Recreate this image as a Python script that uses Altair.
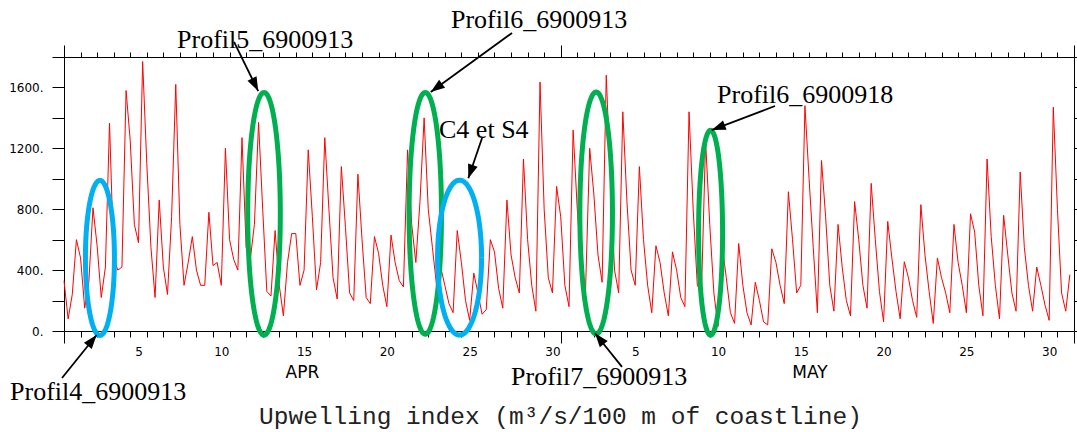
import math
import altair as alt
import numpy as np
import pandas as pd

# ---------------- data: upwelling index, 6-hourly (00h, 06h, 12h, 18h) ----------------
upwelling_apr = [
    330, 80, 240, 600,      # Apr 1
    480, 150, 320, 810,     # 2
    560, 220, 420, 1365,    # 3
    480, 400, 420, 1580,    # 4
    1250, 700, 580, 1770,   # 5
    1100, 550, 220, 860,    # 6
    420, 240, 750, 1620,    # 7
    700, 300, 450, 620,     # 8
    400, 300, 300, 780,     # 9
    430, 450, 300, 1200,    # 10
    600, 470, 400, 1270,    # 11
    550, 470, 700, 1370,    # 12
    800, 260, 230, 660,     # 13
    300, 100, 450, 640,     # 14
    640, 300, 400, 1190,    # 15
    750, 270, 450, 1270,    # 16
    800, 350, 210, 1080,    # 17
    680, 250, 200, 1030,    # 18
    600, 220, 180, 620,     # 19
    510, 300, 160, 630,     # 20
    450, 330, 290, 1190,    # 21
    700, 450, 850, 1400,    # 22
    800, 550, 300, 420,     # 23
    300, 180, 120, 660,     # 24
    450, 200, 70, 380,      # 25
    250, 110, 140, 600,     # 26
    520, 280, 150, 860,     # 27
    500, 350, 250, 1130,    # 28
    600, 300, 130, 1635,    # 29
    800, 350, 250, 950,     # 30
]
upwelling_may = [
    750, 300, 160, 1320,    # May 1
    800, 400, 270, 1200,    # 2
    900, 500, 320, 1680,    # 3
    1000, 400, 250, 1440,   # 4
    850, 400, 300, 1080,    # 5
    600, 300, 120, 560,     # 6
    450, 250, 100, 520,     # 7
    400, 220, 160, 1440,    # 8
    800, 300, 250, 1250,    # 9
    700, 250, 30, 560,      # 10
    350, 120, 50, 575,      # 11
    300, 120, 40, 320,      # 12
    200, 60, 40, 540,       # 13
    450, 300, 180, 915,     # 14
    600, 250, 300, 1480,    # 15
    1000, 550, 120, 1120,   # 16
    750, 300, 130, 700,     # 17
    420, 200, 100, 850,     # 18
    600, 300, 150, 970,     # 19
    600, 260, 60, 720,      # 20
    480, 260, 80, 455,      # 21
    350, 200, 90, 830,      # 22
    500, 260, 50, 480,      # 23
    350, 250, 120, 700,     # 24
    450, 300, 120, 770,     # 25
    650, 300, 100, 1130,    # 26
    620, 300, 80, 760,      # 27
    500, 250, 130, 1045,    # 28
    550, 300, 130, 420,     # 29
    300, 170, 70, 1470,     # 30
    800, 250, 130, 370,     # 31
]
SAMPLES_PER_DAY = 4

# annotation labels (days since 1 Apr 00h, index units)
label_text = ["Profil4_6900913", "Profil5_6900913", "Profil6_6900913",
              "C4 et S4", "Profil6_6900918", "Profil7_6900913"]
label_day = [-3.26, 6.83, 23.37, 22.65, 39.44, 27.0]
label_val = [-453, 1859, 1991, 1268, 1498, -355]

# ellipses
ell_day = [2.17, 12.08, 21.82, 23.89, 32.14, 39.05]
ell_val = [480, 770, 773, 482, 775, 646]
ell_rx = [0.876, 0.984, 0.978, 1.329, 0.984, 0.725]
ell_ry = [509, 797, 794, 509, 795, 673]
ell_color = ["#00B0F0", "#00B050", "#00B050", "#00B0F0", "#00B050", "#00B050"]

# arrows: start -> tip
arr_day0 = [-0.12, 10.27, 27.06, 25.25, 42.94, 33.70]
arr_val0 = [-309, 1899, 1958, 1268, 1478, -236]
arr_day1 = [1.97, 11.73, 22.15, 24.42, 39.12, 32.07]
arr_val1 = [-26, 1576, 1570, 1003, 1320, -15]

# month labels
month_text = ["APR", "MAY"]
month_day = [14.4, 45.05]
month_val = [-279, -279]

TITLE = "Upwelling index (m\u00b3/s/100 m of coastline)"

# ---------------- geometry ----------------
W, H = 1010, 274
X_DOMAIN = [0, 61]
Y_DOMAIN = [0, 1800]
sx = W / (X_DOMAIN[1] - X_DOMAIN[0])
sy = H / (Y_DOMAIN[1] - Y_DOMAIN[0])

values = upwelling_apr + upwelling_may
series = pd.DataFrame({
    "day": [i / SAMPLES_PER_DAY for i in range(len(values))],
    "idx": values,
})

labels_df = pd.DataFrame({"day": label_day, "val": label_val, "text": label_text})
months_df = pd.DataFrame({"day": month_day, "val": month_val, "text": month_text})

rows = []
theta = np.linspace(0, 2 * np.pi, 145)
for k in range(len(ell_day)):
    for j, th in enumerate(theta):
        rows.append({"eid": k, "ord": j,
                     "day": ell_day[k] + ell_rx[k] * math.cos(th),
                     "val": ell_val[k] + ell_ry[k] * math.sin(th),
                     "col": ell_color[k]})
ell_df = pd.DataFrame(rows)

angles = []
for a0, v0, a1, v1 in zip(arr_day0, arr_val0, arr_day1, arr_val1):
    dx = (a1 - a0) * sx
    dy = -(v1 - v0) * sy
    angles.append(math.degrees(math.atan2(dx, -dy)) % 360)
arrows_df = pd.DataFrame({"d0": arr_day0, "v0": arr_val0, "d1": arr_day1,
                          "v1": arr_val1, "angle": angles})

xs = alt.Scale(domain=X_DOMAIN, nice=False, zero=False)
ys = alt.Scale(domain=Y_DOMAIN, nice=False, zero=False)

day_ticks = list(range(0, 62))
val_ticks = list(range(0, 1801, 200))
month_cond = "datum.value == 0 || datum.value == 30 || datum.value == 61"

x_label_expr = ("datum.value < 30 ? (((datum.value + 1) % 5 == 0) ? format(datum.value + 1, 'd') : '') : "
                "((datum.value < 61 && (datum.value - 29) % 5 == 0) ? format(datum.value - 29, 'd') : '')")

common_axis = dict(grid=False, domainColor="black", domainWidth=1, tickColor="black",
                   tickWidth=1, labelColor="black")

bottom_axis = alt.Axis(orient="bottom", values=day_ticks,
                       tickSize={"condition": {"test": month_cond, "value": 12}, "value": 6},
                       labelExpr=x_label_expr, labelOffset=sx / 2, labelPadding=9.5,
                       labelFont="DejaVu Sans", labelFontSize=12, labelOverlap=False,
                       labelFlush=False, labelBound=False,
                       title=TITLE, titleFont="Liberation Mono", titleFontSize=24.5,
                       titleFontWeight="normal", titleColor="#222222",
                       titleX=496, titleY=92, titleAlign="center",
                       titleBaseline="alphabetic", titleAngle=0, **common_axis)
top_axis = alt.Axis(orient="top", values=day_ticks,
                    tickSize={"condition": {"test": month_cond, "value": 12}, "value": 5},
                    labels=False, title=None, **common_axis)
left_axis = alt.Axis(orient="left", values=val_ticks, tickSize=12,
                     labelExpr="datum.value % 400 == 0 ? format(datum.value, 'd') + '.' : ''",
                     labelPadding=9, labelFont="DejaVu Sans", labelFontSize=12,
                     labelOverlap=False, labelFlush=False, title=None, **common_axis)
right_axis = alt.Axis(orient="right", values=val_ticks, tickSize=5, labels=False,
                      title=None, **common_axis)

frame = alt.Chart(series).mark_line(opacity=0).encode(
    x=alt.X("day:Q", scale=xs, axis=top_axis),
    y=alt.Y("idx:Q", scale=ys, axis=right_axis),
)

line = alt.Chart(series).mark_line(color="#ff0000", strokeWidth=1).encode(
    x=alt.X("day:Q", scale=xs, axis=bottom_axis),
    y=alt.Y("idx:Q", scale=ys, axis=left_axis),
)

texts = alt.Chart(labels_df).mark_text(
    align="left", baseline="alphabetic", font="Liberation Serif", fontSize=26, color="black"
).encode(
    x=alt.X("day:Q", scale=xs, axis=None),
    y=alt.Y("val:Q", scale=ys, axis=None),
    text="text:N",
)

months = alt.Chart(months_df).mark_text(
    align="center", baseline="middle", font="DejaVu Sans", fontSize=17, color="black"
).encode(
    x=alt.X("day:Q", scale=xs, axis=None),
    y=alt.Y("val:Q", scale=ys, axis=None),
    text="text:N",
)

ellipses = alt.Chart(ell_df).mark_line(strokeWidth=5).encode(
    x=alt.X("day:Q", scale=xs, axis=None),
    y=alt.Y("val:Q", scale=ys, axis=None),
    detail="eid:N",
    order="ord:Q",
    color=alt.Color("col:N", scale=None),
)

rules = alt.Chart(arrows_df).mark_rule(color="black", strokeWidth=1.8).encode(
    x=alt.X("d0:Q", scale=xs, axis=None),
    y=alt.Y("v0:Q", scale=ys, axis=None),
    x2="d1:Q",
    y2="v1:Q",
)

heads = alt.Chart(arrows_df).mark_point(
    shape="M0,0L0.72,2L-0.72,2Z", filled=True, color="black", opacity=1, size=196, strokeWidth=0
).encode(
    x=alt.X("d1:Q", scale=xs, axis=None),
    y=alt.Y("v1:Q", scale=ys, axis=None),
    angle=alt.Angle("angle:Q", scale=None),
)

chart = alt.layer(frame, line, texts, months, ellipses, rules, heads).resolve_axis(
    x="independent", y="independent"
).properties(
    width=W, height=H,
    padding={"left": 64, "top": 57, "right": 3, "bottom": 101},
    autosize=alt.AutoSizeParams(type="none"),
    background="white",
).configure_view(stroke=None)

chart.save("out.html", embed_options={"renderer": "svg", "actions": False})
